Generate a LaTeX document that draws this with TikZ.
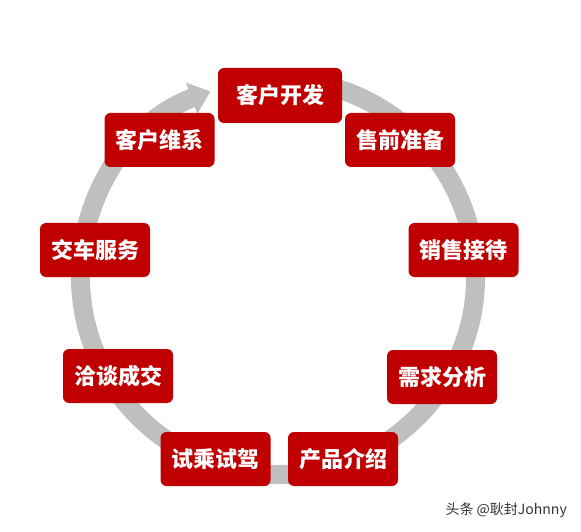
\documentclass[tikz,border=0pt]{standalone}
\usepackage{fontspec}
\setmainfont{Noto Sans CJK SC}
\usetikzlibrary{arrows.meta}

\definecolor{stagered}{HTML}{C00000}
\definecolor{ringgray}{HTML}{BFBFBF}

\begin{document}
\begin{tikzpicture}[x=1pt,y=1pt]
  \tikzstyle{stage}=[fill=stagered, text=white, rounded corners=6pt, inner sep=0pt,
    minimum width=110pt, minimum height=54pt, font=\fontsize{22}{26}\selectfont\bfseries]
  \tikzstyle{ring}=[draw=ringgray, line width=19pt, -{Triangle[length=20pt,width=32pt]}]
  \useasboundingbox (0,0) rectangle (581,531);

  \coordinate (hub) at (278,254);
  \draw[ring] (hub) ++(100:197.5) arc[start angle=100, end angle=-250, radius=197.5];

  \node[stage, minimum width=124pt, minimum height=55pt] (develop) at (280,435.5) {客户开发};
  \node[stage] (prepare) at (400,391) {售前准备};
  \node[stage] (reception) at (463.5,281) {销售接待};
  \node[stage] (needs) at (442,154) {需求分析};
  \node[stage] (product) at (343,72) {产品介绍};
  \node[stage] (testdrive) at (215.5,72) {试乘试驾};
  \node[stage] (deal) at (118,155) {洽谈成交};
  \node[stage] (delivery) at (95,281) {交车服务};
  \node[stage] (maintain) at (159.5,391) {客户维系};

  \node[anchor=east, text=black!80, font=\fontsize{14}{16}\selectfont, inner sep=0pt] (mark) at (567,20.5) {头条 @耿封Johnny};
\end{tikzpicture}
\end{document}
